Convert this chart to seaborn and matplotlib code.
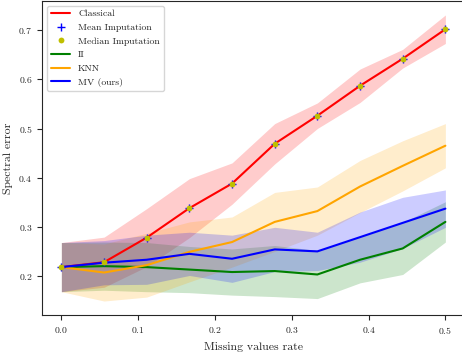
import matplotlib
matplotlib.use('Agg')
import matplotlib.pyplot as plt
import seaborn as sns

# missing values rates (x)
rates = [0.0, 0.0556, 0.1111, 0.1667, 0.2222, 0.2778, 0.3333, 0.3889, 0.4444, 0.5]

# spectral error: mean and std per method
classical_mean = [0.218, 0.228, 0.278, 0.338, 0.388, 0.469, 0.526, 0.587, 0.642, 0.702]
classical_std = [0.050, 0.051, 0.059, 0.060, 0.042, 0.041, 0.026, 0.034, 0.019, 0.029]

ii_mean = [0.218, 0.220, 0.218, 0.213, 0.208, 0.210, 0.203, 0.233, 0.256, 0.310]
ii_std = [0.050, 0.049, 0.050, 0.047, 0.047, 0.052, 0.049, 0.047, 0.053, 0.041]

knn_mean = [0.218, 0.207, 0.222, 0.249, 0.269, 0.310, 0.332, 0.382, 0.424, 0.465]
knn_std = [0.050, 0.058, 0.065, 0.061, 0.051, 0.060, 0.049, 0.053, 0.051, 0.045]

mv_mean = [0.218, 0.227, 0.233, 0.245, 0.235, 0.254, 0.250, 0.279, 0.308, 0.337]
mv_std = [0.050, 0.045, 0.050, 0.044, 0.048, 0.045, 0.039, 0.051, 0.052, 0.038]

sns.set_style("ticks")
plt.rcParams['font.family'] = 'serif'
plt.rcParams['font.serif'] = ['cmr10', 'DejaVu Serif']
plt.rcParams['mathtext.fontset'] = 'cm'
plt.rcParams['axes.formatter.use_mathtext'] = True
plt.rcParams['axes.unicode_minus'] = False

fig = plt.figure(figsize=(4.62, 3.52), dpi=100)
ax = fig.add_axes([0.0913, 0.1043, 0.9143, 0.8937])


def band(mean, std, color):
    lo = [m - s for m, s in zip(mean, std)]
    hi = [m + s for m, s in zip(mean, std)]
    ax.fill_between(rates, lo, hi, color=color, alpha=0.2, linewidth=0)


band(classical_mean, classical_std, 'red')
band(ii_mean, ii_std, 'green')
band(knn_mean, knn_std, 'orange')
band(mv_mean, mv_std, 'blue')

sns.lineplot(x=rates, y=classical_mean, color='red', lw=1.5, label='Classical', ax=ax)
ax.plot(rates, classical_mean, '+', color='blue', markersize=6, mew=1.0,
        label='Mean Imputation', zorder=5)
ax.plot(rates, classical_mean, 'o', color='y', markersize=4.2, mew=0,
        label='Median Imputation', zorder=6)
sns.lineplot(x=rates, y=ii_mean, color='green', lw=1.5, label='II', ax=ax)
sns.lineplot(x=rates, y=knn_mean, color='orange', lw=1.5, label='KNN', ax=ax)
sns.lineplot(x=rates, y=mv_mean, color='blue', lw=1.5, label='MV (ours)', ax=ax)

ax.set_xlim(-0.025, 0.525)
ax.set_ylim(0.12, 0.76)
ax.set_xticks([0.0, 0.1, 0.2, 0.3, 0.4, 0.5])
ax.set_yticks([0.2, 0.3, 0.4, 0.5, 0.6, 0.7])
ax.tick_params(labelsize=7)
ax.set_xlabel('Missing values rate', fontsize=8.5)
ax.set_ylabel('Spectral error', fontsize=8.5)
ax.legend(loc='upper left', frameon=True, fontsize=7)

fig.savefig('out.png', dpi=100)
